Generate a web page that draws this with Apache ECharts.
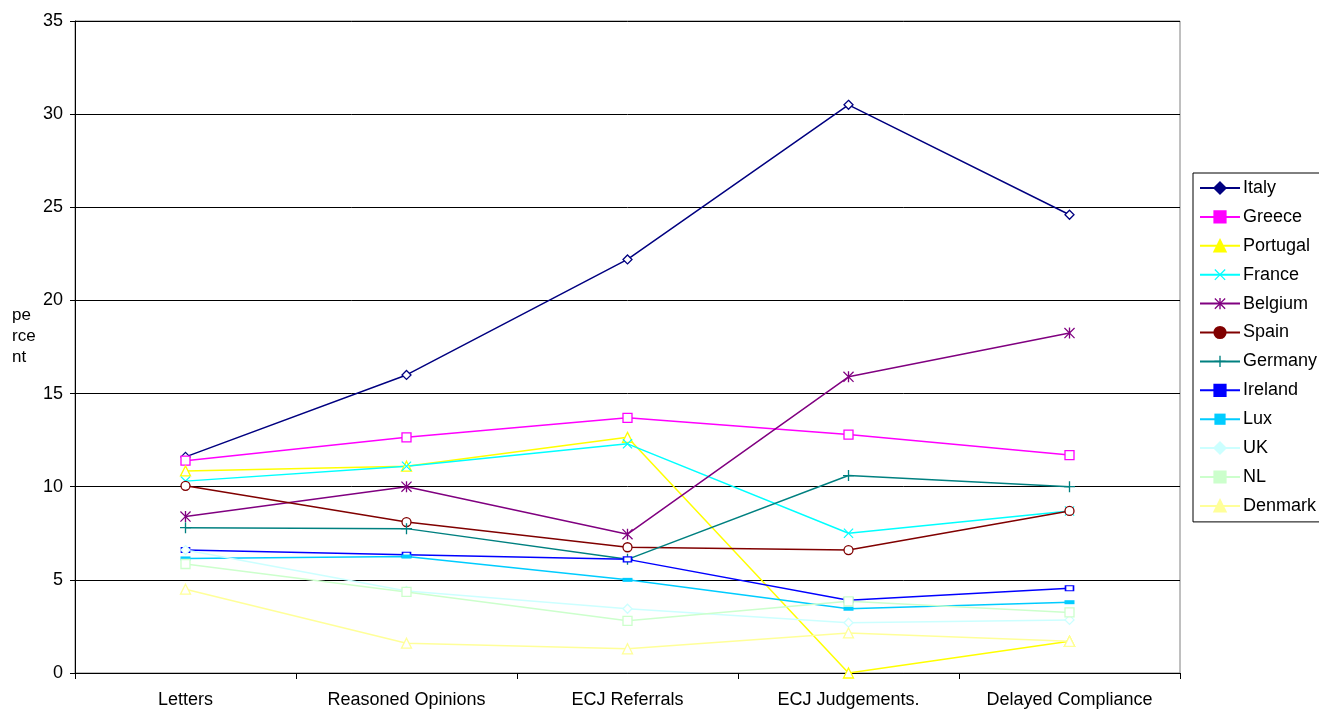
<!DOCTYPE html>
<html>
<head>
<meta charset="utf-8">
<script src="https://cdn.jsdelivr.net/npm/echarts@6/dist/echarts.min.js"></script>
<style>
  html, body { margin: 0; padding: 0; background: #fff; }
  #chart { width: 1319px; height: 709px; }
</style>
</head>
<body>
<div id="chart"></div>
<script>
// Infringement procedure stages (x axis)
const categories = ['Letters', 'Reasoned Opinions', 'ECJ Referrals', 'ECJ Judgements.', 'Delayed Compliance'];

// Share of each stage, in percent, per member state
const italy    = [11.6, 16.0, 22.2, 30.5, 24.6];
const greece   = [11.4, 12.65, 13.7, 12.8, 11.7];
const portugal = [10.85, 11.1, 12.65, 0.0, 1.7];
const france   = [10.3, 11.1, 12.3, 7.5, 8.7];
const belgium  = [8.4, 10.0, 7.45, 15.9, 18.25];
const spain    = [10.05, 8.1, 6.75, 6.6, 8.7];
const germany  = [7.8, 7.75, 6.1, 10.6, 10.0];
const ireland  = [6.6, 6.35, 6.1, 3.9, 4.55];
const lux      = [6.15, 6.25, 5.0, 3.45, 3.8];
const uk       = [6.6, 4.4, 3.45, 2.7, 2.85];
const nl       = [5.85, 4.35, 2.8, 3.85, 3.25];
const denmark  = [4.5, 1.6, 1.3, 2.15, 1.7];

const yTicks = [0, 5, 10, 15, 20, 25, 30, 35];

// Line-only marker shapes
const plusPath = 'path://M4.4,0h1.2v4.4h4.4v1.2h-4.4v4.4h-1.2v-4.4h-4.4v-1.2h4.4z';
const xPath = 'path://M0.8,0L5,4.2L9.2,0L10,0.8L5.8,5L10,9.2L9.2,10L5,5.8L0.8,10L0,9.2L4.2,5L0,0.8z';
const starPath = 'path://M0.8,0L4.4,3.6V0h1.2v3.6L9.2,0L10,0.8L5.8,5L10,9.2L9.2,10L5.6,6.4V10h-1.2V6.4L0.8,10L0,9.2L4.2,5L0,0.8z';

const seriesDefs = [
  { name: 'Italy',    data: italy,    color: '#000080', symbol: 'diamond',  size: 9,  hollow: true },
  { name: 'Greece',   data: greece,   color: '#FF00FF', symbol: 'rect',     size: 9,  hollow: true },
  { name: 'Portugal', data: portugal, color: '#FFFF00', symbol: 'triangle', size: 10, hollow: true },
  { name: 'France',   data: france,   color: '#00FFFF', symbol: xPath,      size: 10, hollow: false },
  { name: 'Belgium',  data: belgium,  color: '#800080', symbol: starPath,   size: 11, hollow: false },
  { name: 'Spain',    data: spain,    color: '#800000', symbol: 'circle',   size: 9,  hollow: true },
  { name: 'Germany',  data: germany,  color: '#008080', symbol: plusPath,   size: 11, hollow: false },
  { name: 'Ireland',  data: ireland,  color: '#0000FF', symbol: 'rect',     size: [8, 5], hollow: true },
  { name: 'Lux',      data: lux,      color: '#00CCFF', symbol: 'rect',     size: [10, 4], hollow: false },
  { name: 'UK',       data: uk,       color: '#CCFFFF', symbol: 'diamond',  size: 9,  hollow: true },
  { name: 'NL',       data: nl,       color: '#CCFFCC', symbol: 'rect',     size: 9,  hollow: true },
  { name: 'Denmark',  data: denmark,  color: '#FFFF99', symbol: 'triangle', size: 10, hollow: true }
];

const font = 'Arial, "Liberation Sans", sans-serif';

const chart = echarts.init(document.getElementById('chart'), null, { renderer: 'canvas' });

chart.setOption({
  animation: false,
  backgroundColor: '#ffffff',
  grid: {
    left: 75, right: 139, top: 21, bottom: 35,
    show: true, borderColor: '#808080', borderWidth: 1, backgroundColor: 'transparent'
  },
  xAxis: {
    type: 'category',
    data: categories,
    boundaryGap: true,
    axisLine: { lineStyle: { color: '#000', width: 1 } },
    axisTick: { show: true, length: 6, inside: false, lineStyle: { color: '#000' } },
    axisLabel: { color: '#000', fontSize: 18, fontFamily: font, margin: 18, interval: 0 }
  },
  yAxis: {
    type: 'value',
    min: yTicks[0],
    max: yTicks[yTicks.length - 1],
    interval: 5,
    axisLine: { show: true, lineStyle: { color: '#000', width: 1 } },
    axisTick: { show: true, length: 5, lineStyle: { color: '#000' } },
    axisLabel: { color: '#000', fontSize: 18, fontFamily: font, margin: 12 },
    splitLine: { show: true, lineStyle: { color: '#000', width: 1 } }
  },
  legend: {
    orient: 'vertical',
    left: 1193,
    top: 173,
    padding: [6, 10, 7, 6],
    itemGap: 10.9,
    itemWidth: 40,
    itemHeight: 14,
    borderColor: '#000',
    borderWidth: 1,
    backgroundColor: '#fff',
    textStyle: { color: '#000', fontSize: 18, lineHeight: 18, fontFamily: font, padding: [0, 0, 0, -2] },
    data: seriesDefs.map(s => ({
      name: s.name,
      itemStyle: { color: s.color, borderColor: s.color }
    }))
  },
  graphic: [{
    type: 'text',
    left: 12,
    top: 305,
    style: {
      text: 'pe\nrce\nnt',
      fill: '#000',
      font: '17px ' + font,
      lineHeight: 21
    }
  }],
  series: seriesDefs.map(s => ({
    name: s.name,
    type: 'line',
    data: s.data,
    color: s.color,
    symbol: s.symbol,
    symbolSize: s.size,
    showAllSymbol: true,
    lineStyle: { color: s.color, width: 1.5 },
    itemStyle: s.hollow
      ? { color: '#ffffff', borderColor: s.color, borderWidth: 1.3 }
      : { color: s.color, borderColor: s.color, borderWidth: 0 },
    emphasis: { disabled: true }
  }))
});
</script>
</body>
</html>
